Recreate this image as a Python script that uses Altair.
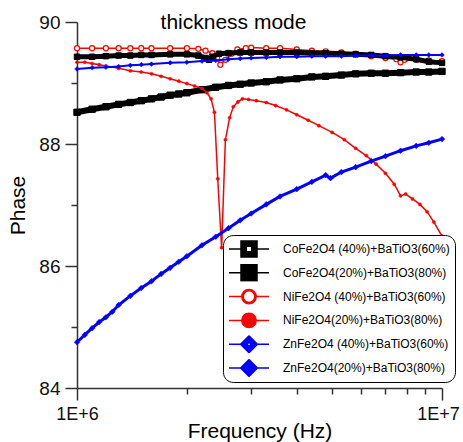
import altair as alt
import pandas as pd

# ---------------- data (frequency in MHz, phase in degrees) ----------------
series_names = [
    "CoFe2O4 (40%)+BaTiO3(60%)",
    "CoFe2O4(20%)+BaTiO3(80%)",
    "NiFe2O4 (40%)+BaTiO3(60%)",
    "NiFe2O4(20%)+BaTiO3(80%)",
    "ZnFe2O4 (40%)+BaTiO3(60%)",
    "ZnFe2O4(20%)+BaTiO3(80%)",
]
series_colors = ["#000000", "#000000", "#FF0000", "#FF0000", "#0000FF", "#0000FF"]

freq_co40 = [1.0, 1.1, 1.2, 1.3, 1.4, 1.5, 1.6, 1.8, 2.0, 2.15, 2.25, 2.3, 2.35, 2.45, 2.6,
             2.8, 3.0, 3.3, 3.6, 4.0, 4.4, 4.8, 5.3, 5.8, 6.4, 7.0, 7.7, 8.5, 9.2, 10.0]
phase_co40 = [89.43, 89.43, 89.44, 89.45, 89.45, 89.46, 89.46, 89.47, 89.47, 89.45, 89.41, 89.38,
              89.43, 89.48, 89.49, 89.50, 89.50, 89.50, 89.50, 89.50, 89.49, 89.49, 89.48, 89.47,
              89.46, 89.44, 89.42, 89.39, 89.35, 89.33]

freq_co20 = [1.0, 1.1, 1.2, 1.3, 1.4, 1.5, 1.6, 1.7, 1.8, 1.9, 2.0, 2.2, 2.4, 2.6, 2.8, 3.0,
             3.3, 3.6, 4.0, 4.4, 4.8, 5.3, 5.8, 6.4, 7.0, 7.7, 8.5, 9.2, 10.0]
phase_co20 = [88.52, 88.57, 88.61, 88.65, 88.68, 88.71, 88.74, 88.77, 88.80, 88.82, 88.84, 88.89,
              88.93, 88.96, 88.98, 89.00, 89.02, 89.05, 89.07, 89.10, 89.11, 89.13, 89.15, 89.16,
              89.16, 89.17, 89.18, 89.18, 89.19]

freq_ni40 = [1.0, 1.1, 1.2, 1.3, 1.4, 1.5, 1.6, 1.8, 2.0, 2.15, 2.25, 2.35, 2.42, 2.47, 2.55,
             2.65, 2.75, 2.9, 3.0, 3.3, 3.6, 4.0, 4.4, 4.8, 5.3, 5.8, 6.4, 7.0, 7.5, 7.7, 7.9,
             8.5, 9.2, 10.0]
phase_ni40 = [89.57, 89.57, 89.57, 89.57, 89.57, 89.57, 89.57, 89.57, 89.57, 89.56, 89.53, 89.49,
              89.41, 89.30, 89.38, 89.48, 89.55, 89.57, 89.58, 89.57, 89.57, 89.55, 89.53, 89.52,
              89.50, 89.48, 89.44, 89.41, 89.39, 89.34, 89.38, 89.38, 89.37, 89.36]

freq_ni20 = [1.0, 1.05, 1.1, 1.15, 1.2, 1.3, 1.4, 1.5, 1.6, 1.7, 1.8, 1.9, 2.0, 2.1, 2.2, 2.27,
             2.33, 2.38, 2.43, 2.49, 2.55, 2.62, 2.68, 2.76, 2.84, 2.95, 3.1, 3.3, 3.5, 3.75,
             4.0, 4.3, 4.6, 5.0, 5.4, 5.8, 6.2, 6.6, 7.0, 7.4, 7.7, 7.95, 8.3, 8.7, 9.1, 9.5, 10.0]
phase_ni20 = [89.34, 89.34, 89.32, 89.30, 89.28, 89.24, 89.20, 89.18, 89.15, 89.11, 89.07, 89.03,
              88.99, 88.95, 88.91, 88.84, 88.74, 88.52, 87.43, 86.30, 88.07, 88.43, 88.61, 88.69,
              88.74, 88.73, 88.71, 88.68, 88.63, 88.56, 88.48, 88.39, 88.30, 88.19, 88.07, 87.93,
              87.81, 87.67, 87.52, 87.34, 87.15, 87.18, 87.10, 87.01, 86.89, 86.72, 86.49]

freq_zn40 = [1.0, 1.1, 1.2, 1.3, 1.4, 1.5, 1.6, 1.8, 2.0, 2.2, 2.4, 2.6, 2.8, 3.0, 3.3, 3.6,
             4.0, 4.4, 4.8, 5.3, 5.8, 6.4, 7.0, 7.7, 8.5, 9.2, 10.0]
phase_zn40 = [89.23, 89.25, 89.26, 89.27, 89.29, 89.30, 89.31, 89.33, 89.34, 89.36, 89.37, 89.39,
              89.40, 89.41, 89.42, 89.43, 89.43, 89.44, 89.44, 89.44, 89.45, 89.45, 89.45, 89.46,
              89.46, 89.46, 89.46]

freq_zn20 = [1.0, 1.05, 1.1, 1.15, 1.2, 1.25, 1.3, 1.4, 1.5, 1.6, 1.7, 1.8, 1.9, 2.0, 2.2, 2.4,
             2.6, 2.8, 3.0, 3.3, 3.6, 4.0, 4.4, 4.8, 4.95, 5.3, 5.8, 6.4, 7.0, 7.7, 8.5, 9.2, 10.0]
phase_zn20 = [84.75, 84.87, 84.98, 85.08, 85.16, 85.25, 85.36, 85.51, 85.64, 85.75, 85.87, 85.97,
              86.07, 86.16, 86.34, 86.48, 86.62, 86.75, 86.86, 87.01, 87.14, 87.26, 87.38, 87.49,
              87.44, 87.54, 87.62, 87.72, 87.80, 87.89, 87.97, 88.02, 88.08]

x_ticks = [1e6, 2e6, 3e6, 4e6, 5e6, 6e6, 7e6, 8e6, 9e6, 1e7]
y_ticks = [84, 85, 86, 87, 88, 89, 90]

FONT = "Liberation Sans"

# ---------------- scales / axes ----------------
x_enc = alt.X(
    "freq:Q",
    scale=alt.Scale(type="log", domain=[1e6, 1e7], nice=False, zero=False),
    axis=alt.Axis(
        values=x_ticks,
        labelExpr="datum.value < 1000001 ? '1E+6' : (datum.value > 9999999 ? '1E+7' : '')",
        tickSize={"condition": {"test": "datum.value < 1000001 || datum.value > 9999999", "value": 12}, "value": 6},
        labelOffset={"condition": {"test": "datum.value > 9999999", "value": -4}, "value": 0},
        labelFontSize=18,
        labelFlush=False,
        labelBound=False,
        labelOverlap=False,
        labelPadding=5,
        titleBaseline="alphabetic",
        titleY=49,
        grid=False,
    ),
    title="Frequency (Hz)",
)
y_enc = alt.Y(
    "phase:Q",
    scale=alt.Scale(domain=[84, 90], nice=False, zero=False),
    axis=alt.Axis(
        values=y_ticks,
        labelExpr="datum.value % 2 == 0 ? datum.label : ''",
        tickSize={"condition": {"test": "datum.value % 2 == 0", "value": 12}, "value": 6},
        labelFontSize=19,
        labelFlush=False,
        labelOverlap=False,
        labelPadding=5,
        titlePadding=10,
        grid=False,
    ),
    title="Phase",
)


def make_layers(freq, phase, color, line_w, shape, size, fill, stroke_w):
    df = pd.DataFrame({"freq": [f * 1e6 for f in freq], "phase": phase})
    base = alt.Chart(df).encode(x=x_enc, y=y_enc)
    line = base.mark_line(color=color, strokeWidth=line_w)
    pts = base.mark_point(shape=shape, size=size, filled=True, fill=fill, stroke=color,
                          strokeWidth=stroke_w, opacity=1)
    return [line, pts]


layers = []
layers += make_layers(freq_ni40, phase_ni40, "#FF0000", 1.5, "circle", 26, "#FFFFFF", 1.2)
layers += make_layers(freq_co40, phase_co40, "#000000", 5, "square", 30, "#000000", 1)
layers += make_layers(freq_co20, phase_co20, "#000000", 6, "square", 40, "#000000", 1)
layers += make_layers(freq_ni20, phase_ni20, "#FF0000", 1.5, "circle", 10, "#FF0000", 0.5)
layers += make_layers(freq_zn40, phase_zn40, "#0000FF", 2, "diamond", 22, "#0000FF", 0.5)
layers += make_layers(freq_zn20, phase_zn20, "#0000FF", 3, "diamond", 32, "#0000FF", 0.5)

# ---------------- legend (line + marker symbols) ----------------
legend_paths = [
    "M-1,0H-0.4M0.4,0H1M-0.4,-0.4H0.4V0.4H-0.4ZM-0.14,-0.14V0.14H0.14V-0.14Z",
    "M-1,0H-0.4M0.4,0H1M-0.4,-0.4H0.4V0.4H-0.4Z",
    "M-1,0H-0.36M0.36,0H1M-0.36,0A0.36,0.36,0,1,1,0.36,0A0.36,0.36,0,1,1,-0.36,0Z"
    "M-0.29,0A0.29,0.29,0,1,0,0.29,0A0.29,0.29,0,1,0,-0.29,0Z",
    "M-1,0H-0.36M0.36,0H1M-0.36,0A0.36,0.36,0,1,1,0.36,0A0.36,0.36,0,1,1,-0.36,0Z",
    "M-1,0H-0.42M0.42,0H1M0,-0.42L0.42,0L0,0.42L-0.42,0ZM0,-0.1L-0.1,0L0,0.1L0.1,0Z",
    "M-1,0H-0.42M0.42,0H1M0,-0.42L0.42,0L0,0.42L-0.42,0Z",
]

leg = alt.Legend(
    title=None, orient="none", legendX=146, legendY=213, padding=5, cornerRadius=10,
    strokeColor="#000000", fillColor="#FFFFFF", symbolSize=1600, symbolStrokeWidth=1.5,
    clipHeight=18, rowPadding=5.8, labelOffset=13, labelFontSize=12, labelFont=FONT,
    labelColor="#000000", labelLimit=400, symbolOpacity=1,
)

legend_df = pd.DataFrame({"series": series_names})
legend_layer = (
    alt.Chart(legend_df)
    .transform_filter("false")
    .mark_point(filled=True, opacity=1)
    .encode(
        fill=alt.Fill("series:N", scale=alt.Scale(domain=series_names, range=series_colors), legend=leg),
        stroke=alt.Stroke("series:N", scale=alt.Scale(domain=series_names, range=series_colors), legend=leg),
        shape=alt.Shape("series:N", scale=alt.Scale(domain=series_names, range=legend_paths), legend=leg),
    )
)

chart = (
    alt.layer(*layers, legend_layer)
    .properties(
        width=365,
        height=366,
        autosize=alt.AutoSizeParams(type="none"),
        padding={"left": 77, "top": 22, "right": 21, "bottom": 54},
        title=alt.TitleParams("thickness mode", fontSize=21, font=FONT, fontWeight="normal",
                              color="#000000", anchor="middle", dx=-26, offset=-20),
    )
    .configure_view(stroke=None)
    .configure_axis(
        domainColor="#333333", domainWidth=1.5, tickColor="#333333", tickWidth=1.5,
        labelFont=FONT, labelColor="#111111",
        titleFont=FONT, titleFontSize=21, titleFontWeight="normal", titleColor="#000000",
    )
)

chart.save("out.html", embed_options={"renderer": "svg", "actions": False})
